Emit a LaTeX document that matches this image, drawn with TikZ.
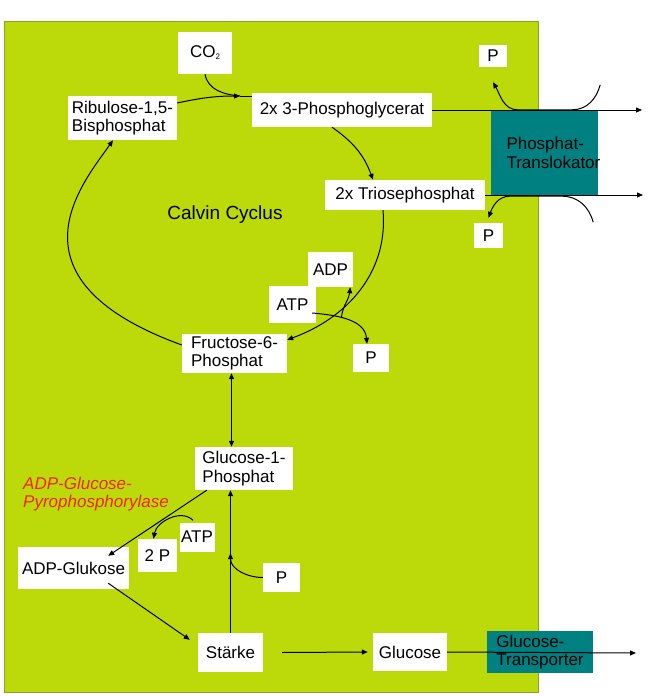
\documentclass[tikz,border=0pt]{standalone}
\usepackage{fontspec}
\setmainfont{Liberation Sans}
\usetikzlibrary{positioning,arrows.meta,calc}
\definecolor{stroma}{RGB}{188,218,10}
\definecolor{stromaedge}{RGB}{140,160,40}
\definecolor{transp}{RGB}{0,128,128}
\definecolor{enzred}{RGB}{245,35,10}
\newcommand{\lbl}{\fontsize{17}{18.5}\selectfont}
\tikzset{
  box/.style={fill=white, font=\lbl, inner sep=0pt, align=center},
  mbox/.style={box, align=left},
  tr/.style={fill=transp, font=\lbl, inner sep=0pt, align=left},
  enz/.style={font=\lbl\itshape, text=enzred, inner sep=0pt, align=left},
  ln/.style={line width=1pt},
  fl/.style={ln, -{Triangle[length=6pt,width=5pt]}},
  dfl/.style={ln, {Triangle[length=6pt,width=5pt]}-{Triangle[length=6pt,width=5pt]}},
}

\begin{document}
\begin{tikzpicture}[x=1pt,y=-1pt]
\useasboundingbox (0,0) rectangle (653,696);
%% ---- le stroma, en fond
\fill[stroma, draw=stromaedge, line width=0.8pt] (4,21) rectangle (538,692);

%% ---- les deux transporteurs de la membrane
\node[tr, minimum width=107pt, minimum height=86pt] (trl) at (544.5,153)
  {\makebox[76pt][l]{Phosphat-}\\\makebox[76pt][l]{Translokator}};
\node[tr, minimum width=106pt, minimum height=42pt] (gt) at (540,652) {Glucose-\\Transporter};

%% ---- le cycle de Calvin
\node[box, minimum width=54pt, minimum height=42pt] (co) at (205,53)
  {CO\raisebox{-2pt}{\fontsize{8}{8}\selectfont 2}};
\node[mbox, minimum width=109pt, minimum height=44pt] (rb) at (122.5,118) {Ribulose-1,5-\\Bisphosphat};
\node[box, minimum width=180pt, minimum height=34pt] (pga) at (342,110) {2x 3-Phosphoglycerat};
\node[box, minimum width=160pt, minimum height=30pt] (tri) at (405,195) {2x Triosephosphat};
\node[box, minimum width=28pt, minimum height=22pt] (pt) at (493,56) {P};
\node[box, minimum width=29pt, minimum height=25pt] (pb) at (488.5,235.5) {P};
\node[font=\fontsize{19}{21}\selectfont, inner sep=0pt] (cyc) at (225,215) {Calvin Cyclus};
\node[box, minimum width=45pt, minimum height=35pt] (adp) at (330.5,269.5) {ADP};
\node[box, minimum width=47pt, minimum height=37pt] (atp) at (292.5,304.5) {ATP};
\node[box, minimum width=36pt, minimum height=28pt] (pm) at (371,358) {P};
\node[mbox, minimum width=105pt, minimum height=39pt] (fr) at (234.5,353.5) {Fructose-6-\\Phosphat};

%% ---- vers l'amidon
\node[mbox, minimum width=98pt, minimum height=43pt] (g1p) at (244,468.5) {Glucose-1-\\Phosphat};
\node[enz, anchor=west] (enz) at (23,494) {ADP-Glucose-\\Pyrophosphorylase};
\node[box, minimum width=35pt, minimum height=29pt] (atpl) at (197,537) {ATP};
\node[box, minimum width=39pt, minimum height=33pt] (pp) at (157.5,555.5) {2 P};
\node[box, minimum width=111pt, minimum height=42pt] (adpg) at (73.5,568) {ADP-Glukose};
\node[box, minimum width=37pt, minimum height=29pt] (pl) at (281.5,577.5) {P};
\node[box, minimum width=65pt, minimum height=39pt] (st) at (230.5,652.5) {Stärke};
\node[box, minimum width=74pt, minimum height=38pt] (glc) at (410,652) {Glucose};

%% ---- points libres
\coordinate (jn) at (240,96);
\coordinate (out1) at (642,110);
\coordinate (out2) at (643,195);
\coordinate (out3) at (636,653);
\coordinate (pi1) at ([xshift=2pt,yshift=25pt]trl.north east);
\coordinate (pi2) at ([xshift=-5pt,yshift=-26pt]trl.south east);
\coordinate (pj) at ([yshift=-63pt]st.north |- g1p.south);

%% ---- fleches du cycle
\draw[fl] ([yshift=15pt]rb.east) to[out=12,in=180] (jn);
\draw[ln] (jn) -- (jn -| pga.west);
\draw[ln] (co.south) to[out=-80,in=175] (jn);
\draw[fl] ([xshift=-10pt]pga.south) to[out=-35,in=110] ([xshift=-32pt]tri.north);
\draw[fl] ([xshift=-22pt]tri.south) to[out=-85,in=20] ([yshift=-6pt]fr.north east);
\draw[fl] ([yshift=8.5pt]fr.west) to[out=160,in=235,out looseness=2.3,in looseness=0.6] ([xshift=-9.5pt]rb.south);
\draw[fl] ([xshift=-4pt,yshift=-8.5pt]atp.east) to[out=-5,in=95] coordinate[pos=0.4] (spl) ([xshift=-4pt]pm.north);
\draw[fl] (spl) to[out=85,in=-95] ([xshift=-3pt]adp.south east);

%% ---- echange au translocateur
\draw[fl] (pga.east) -- (out1);
\draw[fl] (tri.east) -- (out2);
\draw[fl] (pi1) to[out=-105,in=0] ([xshift=-26pt]trl.north east) -- ([xshift=27pt]trl.north west)
  to[out=180,in=-60] ([yshift=-15pt]pt.south);
\draw[fl] (pi2) to[out=105,in=0] ([xshift=-36pt]trl.south east) -- ([xshift=19pt]trl.south west)
  to[out=180,in=70] ([yshift=5pt]pb.north);

%% ---- amidon et glucose
\draw[dfl] ([xshift=-3pt]fr.south) -- ([xshift=-3pt]fr.south |- g1p.north);
\draw[fl] (st.north) -- (st.north |- g1p.south);
\draw[fl] (pl.west) to[out=180,in=-90] (pj);
\draw[fl] ([xshift=12pt]g1p.south west) -- ([xshift=-21pt,yshift=-9pt]adpg.north east);
\draw[fl] ([xshift=-4pt,yshift=2pt]atpl.north) to[out=135,in=80] ([xshift=-4pt]pp.north);
\draw[fl] ([xshift=-21pt,yshift=6pt]adpg.south east) -- ([xshift=-8pt,yshift=-7pt]st.north west);
\draw[fl] ([xshift=19pt]st.east) -- ([xshift=-5pt]glc.west);
\draw[fl] (glc.east) -- (out3);
\end{tikzpicture}
\end{document}
